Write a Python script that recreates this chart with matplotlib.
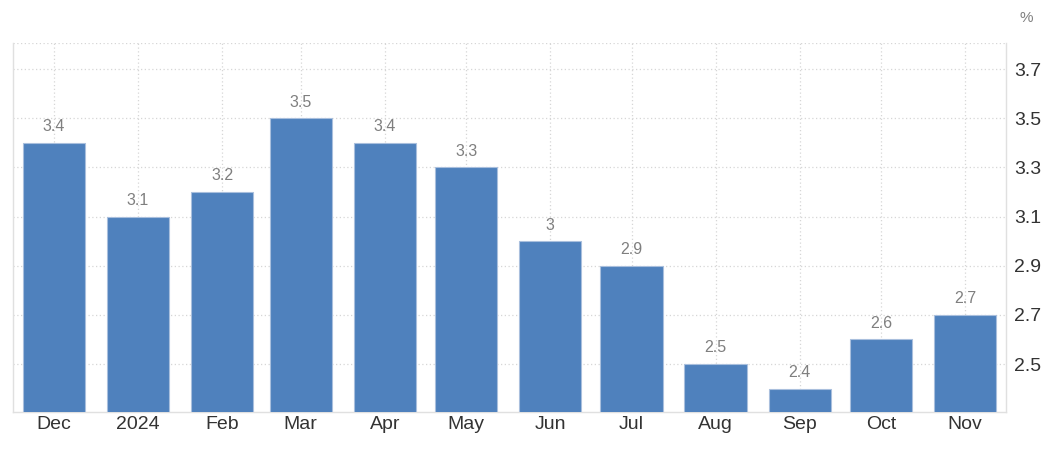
import datetime as dt

import matplotlib
matplotlib.use("Agg")
import matplotlib.pyplot as plt
import matplotlib.dates as mdates

plt.rcParams["font.family"] = ["Liberation Sans", "DejaVu Sans"]

# ---- data ----
months = [dt.date(2023, 12, 1)] + [dt.date(2024, m, 1) for m in range(1, 12)]
month_labels = ["Dec", "2024", "Feb", "Mar", "Apr", "May", "Jun", "Jul",
                "Aug", "Sep", "Oct", "Nov"]
values = [3.4, 3.1, 3.2, 3.5, 3.4, 3.3, 3.0, 2.9, 2.5, 2.4, 2.6, 2.7]
y_ticks = [2.5, 2.7, 2.9, 3.1, 3.3, 3.5, 3.7]

BAR_COLOR = "#4f81bd"
GRID_COLOR = "#d6d6d6"
SPINE_COLOR = "#e0e0e0"

fig = plt.figure(figsize=(10.42, 4.5), dpi=100)
ax = fig.add_axes([0.0125, 0.0844, 0.953, 0.82])

x = mdates.date2num(months)
ax.bar(x, values, width=23, color=BAR_COLOR, edgecolor="#a9bfdd",
       linewidth=0.8, zorder=3)

# value label above each bar
for xi, v in zip(x, values):
    ax.text(xi, v + 0.035, f"{v:g}", ha="center", va="bottom", fontsize=11.5,
            color="#7f7f7f", zorder=4)

ax.set_xlim(x[0] - 15.1, x[-1] + 15.1)
ax.set_ylim(2.305, 3.806)

ax.set_xticks(x)
ax.set_xticklabels(month_labels)
ax.yaxis.tick_right()
ax.set_yticks(y_ticks)
ax.set_yticklabels([f"{t:.1f}" for t in y_ticks])
ax.tick_params(axis="both", length=0, labelsize=14, colors="#333333")
ax.tick_params(axis="x", pad=3)
ax.tick_params(axis="y", pad=6)

ax.grid(True, linestyle=(0, (1, 2)), color=GRID_COLOR, linewidth=0.9, zorder=0)
ax.axhline(3.806, linestyle=(0, (1, 2)), color=GRID_COLOR, linewidth=0.9,
           zorder=0)

for side in ["left", "bottom", "right"]:
    ax.spines[side].set_color(SPINE_COLOR)
    ax.spines[side].set_linewidth(1.0)
ax.spines["top"].set_visible(False)

fig.text(1026 / 1042, 1 - 18 / 450, "%", ha="center", va="center",
         fontsize=11, color="#808080")

fig.savefig("out.png", dpi=100)
plt.close(fig)
